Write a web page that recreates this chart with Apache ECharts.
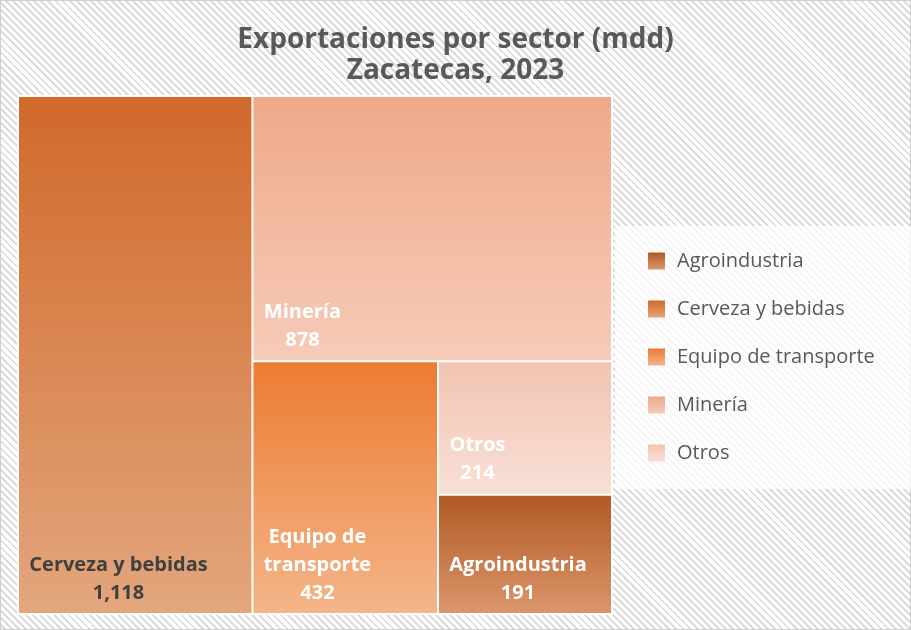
<!DOCTYPE html>
<html>
<head>
<meta charset="utf-8">
<script src="https://cdn.jsdelivr.net/npm/echarts@6/dist/echarts.min.js"></script>
<style>
  html, body { margin: 0; padding: 0; }
  #chart {
    width: 911px;
    height: 630px;
    background: repeating-linear-gradient(45deg, #ffffff 0px, #ffffff 3px, #dcdcdc 3px, #dcdcdc 5px);
    box-shadow: inset 0 0 0 1px #cfcfcf;
  }
</style>
</head>
<body>
<div id="chart"></div>
<script>
  // datos (mdd)
  const sectors = ['Cerveza y bebidas', 'Minería', 'Equipo de transporte', 'Otros', 'Agroindustria'];
  const values = [1118, 878, 432, 214, 191];
  const labelNames = ['Cerveza y bebidas', 'Minería', 'Equipo de\ntransporte', 'Otros', 'Agroindustria'];
  const legendOrder = ['Agroindustria', 'Cerveza y bebidas', 'Equipo de transporte', 'Minería', 'Otros'];

  // gradiente arriba -> abajo para cada sector
  const gradients = {
    'Cerveza y bebidas': ['#D1692A', '#E3A67D'],
    'Minería': ['#EFA98A', '#F6CBB8'],
    'Equipo de transporte': ['#EC7C32', '#F4B589'],
    'Otros': ['#F2C4B2', '#F9DFD5'],
    'Agroindustria': ['#B05A25', '#DC956B'],
  };

  const font = '"Open Sans", "Noto Sans", sans-serif';
  const LABEL_SIZE = 20;
  const LINE_H = 28;
  const PAD_LEFT = 8;
  const PAD_BOTTOM = 4;

  const grad = name =>
    new echarts.graphic.LinearGradient(0, 0, 0, 1, [
      { offset: 0, color: gradients[name][0] },
      { offset: 1, color: gradients[name][1] },
    ]);

  const fmt = v => v.toLocaleString('en-US');

  const ctx = document.createElement('canvas').getContext('2d');
  ctx.font = `bold ${LABEL_SIZE}px ${font}`;

  const labelLines = i => [...labelNames[i].split('\n'), fmt(values[i])];

  /**
   * datos del treemap; layouts = rectangulos que calcula echarts (2a pasada)
   */
  const buildData = layouts =>
    sectors.map((name, i) => {
      const label = { color: name === 'Cerveza y bebidas' ? '#404040' : '#ffffff' };
      if (layouts && layouts[name]) {
        const lay = layouts[name];
        const lines = labelLines(i);
        const blockW = Math.ceil(Math.max(...lines.map(s => ctx.measureText(s).width))) + 4;
        const blockH = lines.length * LINE_H + 2;
        label.padding = [
          Math.max(lay.height - blockH - PAD_BOTTOM, 0),
          Math.max(lay.width - PAD_LEFT - blockW, 0),
          PAD_BOTTOM,
          PAD_LEFT,
        ];
      }
      return {
        name,
        value: values[i],
        lineIdx: i,
        itemStyle: { color: grad(name) },
        label,
      };
    });

  const chart = echarts.init(document.getElementById('chart'));

  const option = {
    animation: false,
    title: {
      text: 'Exportaciones por sector (mdd)\nZacatecas, 2023',
      left: 'center',
      top: 20,
      textStyle: {
        fontFamily: font,
        fontSize: 28,
        fontWeight: 'bold',
        lineHeight: 31,
        color: '#595959',
      },
    },
    legend: {
      orient: 'vertical',
      left: 615,
      top: 226,
      padding: [25, 40, 26, 33],
      itemGap: 28,
      itemWidth: 17,
      itemHeight: 17,
      icon: 'rect',
      backgroundColor: 'rgba(255,255,255,0.75)',
      data: legendOrder,
      selectedMode: false,
      textStyle: {
        fontFamily: font,
        fontSize: 20,
        color: '#595959',
        padding: [0, 0, 0, 7],
      },
    },
    series: [
      {
        type: 'treemap',
        left: 17,
        top: 95,
        width: 596,
        height: 520,
        roam: false,
        nodeClick: false,
        breadcrumb: { show: false },
        squareRatio: 0.5,
        levels: [
          {
            itemStyle: { borderColor: '#ffffff', borderWidth: 2, gapWidth: 2 },
          },
          {
            itemStyle: { borderWidth: 0 },
          },
        ],
        label: {
          show: true,
          position: 'inside',
          distance: 0,
          fontFamily: font,
          fontSize: LABEL_SIZE,
          fontWeight: 'bold',
          lineHeight: LINE_H,
          formatter: p => labelLines(p.data.lineIdx).map(s => `{n|${s}}`).join('\n'),
          rich: {
            n: {
              align: 'center',
              fontFamily: font,
              fontSize: LABEL_SIZE,
              fontWeight: 'bold',
              lineHeight: LINE_H,
            },
          },
        },
        data: buildData(null),
      },
      {
        // serie auxiliar solo para la leyenda
        type: 'pie',
        silent: true,
        radius: 0,
        center: [-200, -200],
        label: { show: false },
        labelLine: { show: false },
        data: legendOrder.map(name => ({
          name,
          value: 1,
          itemStyle: { color: grad(name) },
        })),
      },
    ],
  };

  chart.setOption(option);

  // segunda pasada: etiquetas abajo a la izquierda segun el layout del treemap
  const treeRoot = chart.getModel().getSeriesByIndex(0).getData().tree.root;
  const layouts = {};
  treeRoot.children.forEach(node => {
    const lay = node.getLayout();
    layouts[node.name] = { width: lay.width, height: lay.height };
  });
  chart.setOption({ series: [{ data: buildData(layouts) }] });
</script>
</body>
</html>
